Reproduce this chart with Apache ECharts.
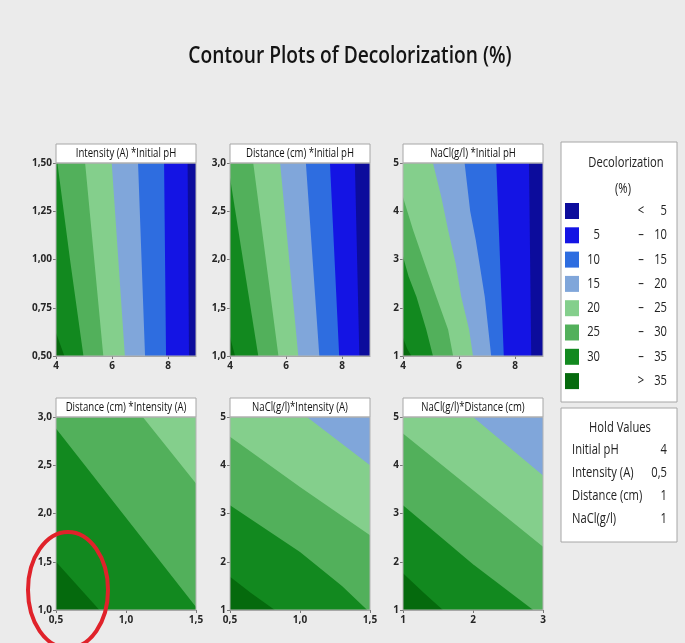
<!DOCTYPE html>
<html>
<head>
<meta charset="utf-8">
<script src="https://cdn.jsdelivr.net/npm/echarts@6/dist/echarts.min.js"></script>
<style>
  html, body { margin: 0; padding: 0; background: #ebebeb; }
  #chart { width: 685px; height: 643px; }
</style>
</head>
<body>
<div id="chart"></div>
<script>
// ---- Contour bands (Decolorization, %) ----
const bandLower = ['', '5', '10', '15', '20', '25', '30', ''];
const bandSign = ['<', '–', '–', '–', '–', '–', '–', '>'];
const bandUpper = ['5', '10', '15', '20', '25', '30', '35', '35'];

// ---- Hold values ----
const holdNames = ['Initial pH', 'Intensity (A)', 'Distance (cm)', 'NaCl(g/l)'];
const holdValues = ['4', '0,5', '1', '1'];

// ---- Panel titles ----
const panelTitles = [
  'Intensity (A) *Initial pH', 'Distance (cm) *Initial pH', 'NaCl(g/l) *Initial pH',
  'Distance (cm) *Intensity (A)', 'NaCl(g/l)*Intensity (A)', 'NaCl(g/l)*Distance (cm)'
];

// ---- Tick values ----
const phTicks = [4, 6, 8];
const intensityTicks = [0.5, 1.0, 1.5];
const intensityTicksY = [0.5, 0.75, 1.0, 1.25, 1.5];
const distanceTicks = [1, 2, 3];
const distanceTicksY = [1.0, 1.5, 2.0, 2.5, 3.0];
const naclTicks = [1, 2, 3, 4, 5];

// ---- Contour lines: [level, [[x, y], ...]] running from top/left edge to bottom/right edge ----
const intensityVsPh = [
  [35, [[4, 0.62], [4.3, 0.5]]],
  [30, [[4.05, 1.5], [4.5, 1.0], [4.98, 0.5]]],
  [25, [[5.04, 1.5], [5.69, 0.5]]],
  [20, [[5.99, 1.5], [6.46, 0.5]]],
  [15, [[6.93, 1.5], [7.18, 0.5]]],
  [10, [[7.86, 1.5], [7.93, 0.5]]],
  [5, [[8.7, 1.5], [8.75, 0.5]]]
];
const distanceVsPh = [
  [35, [[4, 1.2], [4.18, 1.0]]],
  [30, [[4, 2.85], [4.5, 1.93], [5.01, 1.0]]],
  [25, [[4.83, 3.0], [5.73, 1.0]]],
  [20, [[5.79, 3.0], [6.44, 1.0]]],
  [15, [[6.71, 3.0], [7.19, 1.0]]],
  [10, [[7.57, 3.0], [7.9, 1.0]]],
  [5, [[8.46, 3.0], [8.62, 1.0]]]
];
const naclVsPh = [
  [35, [[4, 1.38], [4.15, 1.15], [4.3, 1.0]]],
  [30, [[4, 3.06], [4.2, 2.65], [4.48, 2.23], [4.83, 1.55], [5.07, 1.0]]],
  [25, [[4, 4.29], [4.36, 3.61], [4.77, 2.92], [5.19, 2.23], [5.61, 1.55], [5.79, 1.0]]],
  [20, [[5.07, 5.0], [5.37, 4.29], [5.61, 3.61], [5.88, 2.92], [6.08, 2.23], [6.36, 1.55], [6.5, 1.0]]],
  [15, [[6.2, 5.0], [6.4, 4.0], [6.6, 3.4], [6.92, 2.23], [7.15, 1.0]]],
  [10, [[7.33, 5.0], [7.6, 1.0]]],
  [5, [[8.5, 5.0], [8.58, 1.0]]]
];
const distanceVsIntensity = [
  [35, [[0.5, 1.5], [0.81, 1.0]]],
  [30, [[0.5, 2.88], [1.5, 1.03]]],
  [25, [[1.12, 3.0], [1.5, 2.31]]]
];
const naclVsIntensity = [
  [35, [[0.5, 1.69], [0.65, 1.35], [0.82, 1.0]]],
  [30, [[0.5, 3.17], [1.0, 2.2], [1.3, 1.5], [1.48, 1.0]]],
  [25, [[0.5, 4.59], [1.0, 3.55], [1.5, 2.55]]],
  [20, [[1.05, 5.0], [1.5, 4.0]]]
];
const naclVsDistance = [
  [35, [[1, 1.76], [1.3, 1.35], [1.57, 1.0]]],
  [30, [[1, 3.17], [2.0, 1.95], [2.86, 1.0]]],
  [25, [[1, 4.66], [3, 2.31]]],
  [20, [[2.0, 5.0], [3, 3.79]]]
];

// Band colours, lowest band first
const palette = ['#0c0c9c', '#1414e4', '#2e6de0', '#80a6da', '#84cf8c', '#52b05b', '#12891f', '#056a0d'];

const PW = 140, PH = 193;
const panels = [
  { lines: intensityVsPh, left: 56, top: 163, x: [4, 9], y: [0.5, 1.5], xt: phTicks, yt: intensityTicksY, xd: 0, yd: 2 },
  { lines: distanceVsPh, left: 230, top: 163, x: [4, 9], y: [1, 3], xt: phTicks, yt: distanceTicksY, xd: 0, yd: 1 },
  { lines: naclVsPh, left: 403, top: 163, x: [4, 9], y: [1, 5], xt: phTicks, yt: naclTicks, xd: 0, yd: 0 },
  { lines: distanceVsIntensity, left: 56, top: 417, x: [0.5, 1.5], y: [1, 3], xt: intensityTicks, yt: distanceTicksY, xd: 1, yd: 1 },
  { lines: naclVsIntensity, left: 230, top: 417, x: [0.5, 1.5], y: [1, 5], xt: intensityTicks, yt: naclTicks, xd: 1, yd: 0 },
  { lines: naclVsDistance, left: 403, top: 417, x: [1, 3], y: [1, 5], xt: distanceTicks, yt: naclTicks, xd: 0, yd: 0 }
];

const fmt = d => v => Number(v).toFixed(d).replace('.', ',');
const tickFont = { fontFamily: "'Liberation Sans Narrow', 'Open Sans', sans-serif", fontSize: 10, fontWeight: 'bold', color: '#262626' };

const grid = [], xAxis = [], yAxis = [], series = [], graphic = [];

panels.forEach((p, k) => {
  grid.push({ left: p.left, top: p.top, width: PW, height: PH, containLabel: false });
  xAxis.push({
    type: 'value', gridIndex: k, min: p.x[0], max: p.x[1],
    splitLine: { show: false },
    axisLine: { show: true, lineStyle: { color: '#9a9a9a', width: 1 } },
    axisTick: { show: true, length: 3, customValues: p.xt, lineStyle: { color: '#777' } },
    axisLabel: Object.assign({ customValues: p.xt, margin: 5, formatter: fmt(p.xd) }, tickFont)
  });
  yAxis.push({
    type: 'value', gridIndex: k, min: p.y[0], max: p.y[1],
    splitLine: { show: false },
    axisLine: { show: true, lineStyle: { color: '#9a9a9a', width: 1 } },
    axisTick: { show: true, length: 3, customValues: p.yt, lineStyle: { color: '#777' } },
    axisLabel: Object.assign({ customValues: p.yt, margin: 4, formatter: fmt(p.yd) }, tickFont)
  });
  // Item 0 is the whole plot in the top band; each following item fills the
  // low side (upper/right) of one contour line with the band below that level.
  const items = [[0]].concat(p.lines.map((_, i) => [i + 1]));
  series.push({
    type: 'custom', xAxisIndex: k, yAxisIndex: k, clip: true, silent: true,
    data: items,
    renderItem: (params, api) => {
      const i = params.dataIndex;
      const x0 = p.x[0], x1 = p.x[1], y0 = p.y[0], y1 = p.y[1];
      let pts, color;
      if (i === 0) {
        pts = [[x0, y0], [x1, y0], [x1, y1], [x0, y1]];
        color = palette[7];
      } else {
        const [level, line] = p.lines[i - 1];
        pts = line.concat([[x1, y0], [x1, y1], [x0, y1]]);
        color = palette[level / 5 - 1];
      }
      return {
        type: 'polygon', z2: i,
        shape: { points: pts.map(q => api.coord(q)) },
        style: { fill: color, stroke: null }
      };
    }
  });
  // title strip and frame
  graphic.push({
    type: 'rect', z: 100, shape: { x: p.left, y: p.top - 19, width: PW, height: 19 },
    style: { fill: '#ffffff', stroke: '#a6a6a6', lineWidth: 1 }
  });
  graphic.push({
    type: 'text', z: 101, x: p.left + PW / 2, y: p.top - 9, scaleX: 0.8,
    style: { text: panelTitles[k], fill: '#111', font: "12px 'Open Sans', sans-serif", textAlign: 'center', textVerticalAlign: 'middle' }
  });
  graphic.push({
    type: 'rect', z: 100, shape: { x: p.left, y: p.top, width: PW, height: PH },
    style: { fill: null, stroke: '#b4b4b4', lineWidth: 1 }
  });
});

// main title
graphic.push({
  type: 'text', z: 101, x: 350, y: 56, scaleX: 0.8,
  style: { text: 'Contour Plots of Decolorization (%)', fill: '#141414', font: "600 24px 'Open Sans', sans-serif", textAlign: 'center', textVerticalAlign: 'middle' }
});

// legend box
graphic.push({ type: 'rect', z: 100, shape: { x: 561, y: 142, width: 116, height: 260 }, style: { fill: '#fff', stroke: '#a6a6a6', lineWidth: 1 } });
const legFont = "14px 'Open Sans', sans-serif";
graphic.push({ type: 'text', z: 101, x: 626, y: 163, scaleX: 0.8, style: { text: 'Decolorization', fill: '#222', font: legFont, textAlign: 'center', textVerticalAlign: 'middle' } });
graphic.push({ type: 'text', z: 101, x: 623, y: 189, scaleX: 0.8, style: { text: '(%)', fill: '#222', font: legFont, textAlign: 'center', textVerticalAlign: 'middle' } });
bandUpper.forEach((u, i) => {
  const y = 211 + i * 24.3;
  graphic.push({ type: 'rect', z: 101, shape: { x: 565, y: y - 8, width: 14, height: 16 }, style: { fill: palette[i] } });
  graphic.push({ type: 'text', z: 101, x: 600, y: y, scaleX: 0.8, style: { text: bandLower[i], fill: '#222', font: legFont, textAlign: 'right', textVerticalAlign: 'middle' } });
  graphic.push({ type: 'text', z: 101, x: 641, y: y, scaleX: 0.8, style: { text: bandSign[i], fill: '#222', font: legFont, textAlign: 'center', textVerticalAlign: 'middle' } });
  graphic.push({ type: 'text', z: 101, x: 667, y: y, scaleX: 0.8, style: { text: u, fill: '#222', font: legFont, textAlign: 'right', textVerticalAlign: 'middle' } });
});

// hold values box
graphic.push({ type: 'rect', z: 100, shape: { x: 561, y: 408, width: 116, height: 134 }, style: { fill: '#fff', stroke: '#a6a6a6', lineWidth: 1 } });
graphic.push({ type: 'text', z: 101, x: 620, y: 428, scaleX: 0.8, style: { text: 'Hold Values', fill: '#222', font: legFont, textAlign: 'center', textVerticalAlign: 'middle' } });
holdNames.forEach((n, i) => {
  const y = 450 + i * 23;
  graphic.push({ type: 'text', z: 101, x: 572, y: y, scaleX: 0.8, style: { text: n, fill: '#222', font: legFont, textAlign: 'left', textVerticalAlign: 'middle' } });
  graphic.push({ type: 'text', z: 101, x: 667, y: y, scaleX: 0.8, style: { text: holdValues[i], fill: '#222', font: legFont, textAlign: 'right', textVerticalAlign: 'middle' } });
});

// highlight ring around the low Intensity / low Distance corner
graphic.push({
  type: 'ellipse', z: 120, shape: { cx: 68, cy: 590, rx: 40, ry: 58 },
  style: { fill: null, stroke: '#e0222a', lineWidth: 4 }
});

const chart = echarts.init(document.getElementById('chart'), null, { renderer: 'canvas' });
chart.setOption({
  backgroundColor: '#ebebeb',
  animation: false,
  grid, xAxis, yAxis, series, graphic
});
</script>
</body>
</html>
